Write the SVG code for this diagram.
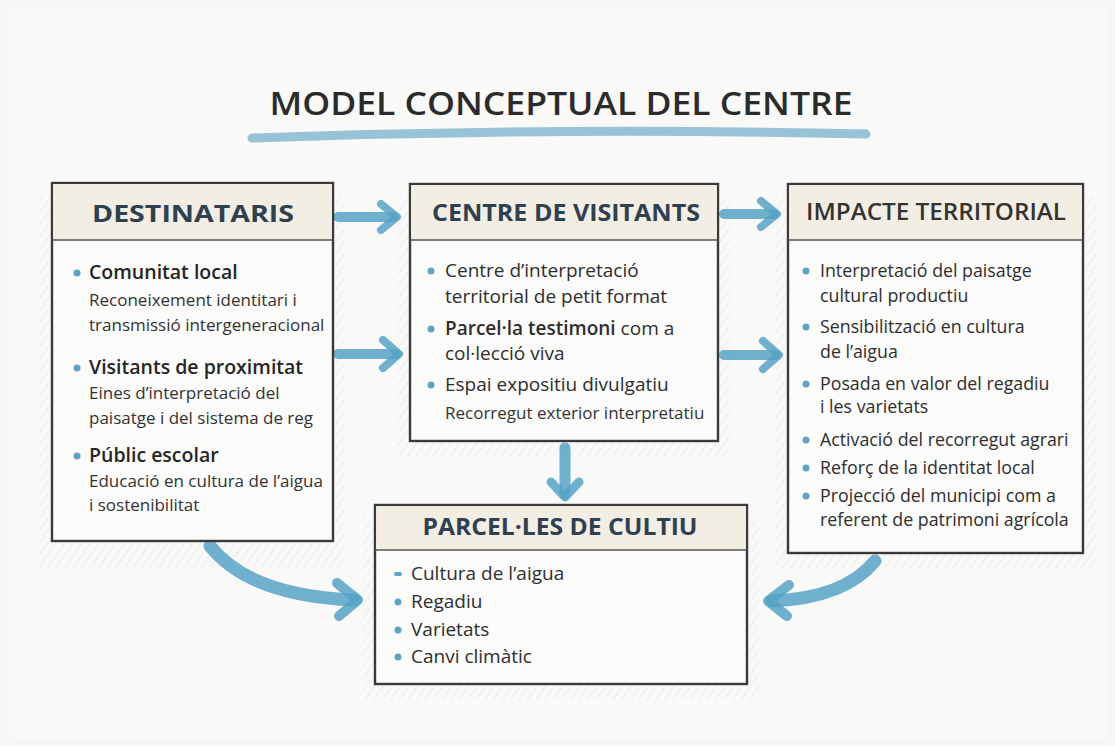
<svg xmlns="http://www.w3.org/2000/svg" width="1115" height="746" viewBox="0 0 1115 746">
  <defs>
    <pattern id="hatch" width="7" height="7" patternUnits="userSpaceOnUse" patternTransform="rotate(35)">
      <line x1="0" y1="0" x2="0" y2="7" stroke="#bdbdbd" stroke-width="0.7"/>
    </pattern>
    <style>
      .box { fill: #fbfbfa; stroke: #3a3a3a; stroke-width: 2.4; }
      .hdr { fill: #f2eee3; }
      .sep { stroke: #555; stroke-width: 1.6; }
      .shadow { fill: url(#hatch); opacity: 0.6; }
      .htxt { font-family: "Open Sans", "Liberation Sans", sans-serif; font-weight: 700; font-size: 22.5px; fill: #2f4050; text-anchor: middle; }
      .b { font-family: "Open Sans", "Liberation Sans", sans-serif; font-weight: 600; font-size: 19.5px; fill: #262626; }
      .r { font-family: "Open Sans", "Liberation Sans", sans-serif; font-weight: 400; font-size: 19px; fill: #2e2e2e; }
      .r3 { font-family: "Open Sans", "Liberation Sans", sans-serif; font-weight: 400; font-size: 17.8px; fill: #2e2e2e; }
      .s { font-family: "Open Sans", "Liberation Sans", sans-serif; font-weight: 400; font-size: 17px; fill: #333; }
      .dot { fill: #5fa3c4; }
      .arr { fill: none; stroke: #56a3c5; stroke-linecap: round; stroke-linejoin: round; opacity: 0.85; }
    </style>
  </defs>

  <rect x="0" y="0" width="1115" height="746" fill="#f6f6f4"/>
  <rect x="8" y="8" width="1099" height="730" rx="6" fill="#f9f9f8"/>

  <!-- Title -->
  <g id="title">
    <text x="561" y="115" text-anchor="middle" font-family="Open Sans, Liberation Sans, sans-serif" font-size="33" font-weight="600" fill="#2b2b2b" textLength="583" lengthAdjust="spacingAndGlyphs">MODEL CONCEPTUAL DEL CENTRE</text>
    <path d="M252,138 Q560,127 866,134" fill="none" stroke="#7fb5cd" stroke-width="9" stroke-linecap="round" opacity="0.8"/>
  </g>

  <!-- shadows -->
  <rect class="shadow" x="40" y="195" width="305" height="372"/>
  <rect class="shadow" x="398" y="196" width="332" height="260"/>
  <rect class="shadow" x="776" y="196" width="320" height="372"/>
  <rect class="shadow" x="363" y="517" width="396" height="183"/>

  <!-- Connectors -->
  <g id="connectors">
    <path class="arr" stroke-width="10" d="M338,217 L394,217"/>
    <path class="arr" stroke-width="8" d="M381,204 L397,217 L381,230"/>
    <path class="arr" stroke-width="10" d="M338,354 L396,354"/>
    <path class="arr" stroke-width="8" d="M383,340 L399,354 L383,368"/>
    <path class="arr" stroke-width="10" d="M724,214 L774,214"/>
    <path class="arr" stroke-width="8" d="M761,201 L777,214 L761,227"/>
    <path class="arr" stroke-width="10" d="M724,355 L776,355"/>
    <path class="arr" stroke-width="8" d="M763,341 L779,355 L763,369"/>
    <path class="arr" stroke-width="11" d="M565,448 L565,494"/>
    <path class="arr" stroke-width="9" d="M551,482 L565,497 L579,482"/>
    <path class="arr" stroke-width="13" d="M210,546 Q250,596 355,600"/>
    <path class="arr" stroke-width="10" d="M337,583 L358,600 L339,616"/>
    <path class="arr" stroke-width="13" d="M875,561 Q845,598 772,601"/>
    <path class="arr" stroke-width="10" d="M789,585 L768,601 L787,616"/>
  </g>

  <!-- Box 1 -->
  <g id="destinataris">
    <rect class="box" x="52" y="183" width="281" height="358"/>
    <rect class="hdr" x="53.2" y="184.2" width="278.6" height="55"/>
    <line class="sep" x1="52" y1="240" x2="333" y2="240"/>
    <text class="htxt" x="193" y="222" textLength="202" lengthAdjust="spacingAndGlyphs">DESTINATARIS</text>
    <circle class="dot" cx="77" cy="273" r="3.5"/>
    <text class="b" x="89" y="279">Comunitat local</text>
    <text class="s" x="89" y="306">Reconeixement identitari i</text>
    <text class="s" x="89" y="331">transmissió intergeneracional</text>
    <circle class="dot" cx="77" cy="368" r="3.5"/>
    <text class="b" x="89" y="374">Visitants de proximitat</text>
    <text class="s" x="89" y="399">Eines d’interpretació del</text>
    <text class="s" x="89" y="424">paisatge i del sistema de reg</text>
    <circle class="dot" cx="77" cy="456" r="3.5"/>
    <text class="b" x="89" y="462">Públic escolar</text>
    <text class="s" x="89" y="487">Educació en cultura de l’aigua</text>
    <text class="s" x="89" y="511">i sostenibilitat</text>
  </g>

  <!-- Box 2 -->
  <g id="centre-visitants">
    <rect class="box" x="410" y="184" width="308" height="257"/>
    <rect class="hdr" x="411.2" y="185.2" width="305.6" height="54"/>
    <line class="sep" x1="410" y1="240" x2="718" y2="240"/>
    <text class="htxt" x="566" y="221" textLength="268" lengthAdjust="spacingAndGlyphs">CENTRE DE VISITANTS</text>
    <circle class="dot" cx="431" cy="271" r="3.5"/>
    <text class="r" x="445" y="277">Centre d’interpretació</text>
    <text class="r" x="445" y="303">territorial de petit format</text>
    <circle class="dot" cx="431" cy="329" r="3.5"/>
    <text class="r" x="445" y="335"><tspan font-weight="600">Parcel·la testimoni</tspan> com a</text>
    <text class="r" x="445" y="360">col·lecció viva</text>
    <circle class="dot" cx="431" cy="385" r="3.5"/>
    <text class="r" x="445" y="391" font-weight="500">Espai expositiu divulgatiu</text>
    <text class="s" x="445" y="419">Recorregut exterior interpretatiu</text>
  </g>

  <!-- Box 3 -->
  <g id="impacte-territorial">
    <rect class="box" x="788" y="184" width="295" height="369"/>
    <rect class="hdr" x="789.2" y="185.2" width="292.6" height="54"/>
    <line class="sep" x1="788" y1="240" x2="1083" y2="240"/>
    <text class="htxt" x="936" y="220" style="fill:#333;font-weight:600" textLength="260" lengthAdjust="spacingAndGlyphs">IMPACTE TERRITORIAL</text>
    <circle class="dot" cx="806" cy="271" r="3.5"/>
    <text class="r3" x="820" y="277">Interpretació del paisatge</text>
    <text class="r3" x="820" y="302">cultural productiu</text>
    <circle class="dot" cx="806" cy="327" r="3.5"/>
    <text class="r3" x="820" y="333">Sensibilització en cultura</text>
    <text class="r3" x="820" y="358">de l’aigua</text>
    <circle class="dot" cx="806" cy="384" r="3.5"/>
    <text class="r3" x="820" y="390">Posada en valor del regadiu</text>
    <text class="r3" x="820" y="413">i les varietats</text>
    <circle class="dot" cx="806" cy="440" r="3.5"/>
    <text class="r3" x="820" y="446">Activació del recorregut agrari</text>
    <circle class="dot" cx="806" cy="468" r="3.5"/>
    <text class="r3" x="820" y="474">Reforç de la identitat local</text>
    <circle class="dot" cx="806" cy="496" r="3.5"/>
    <text class="r3" x="820" y="502">Projecció del municipi com a</text>
    <text class="r3" x="820" y="526">referent de patrimoni agrícola</text>
  </g>

  <!-- Box 4 -->
  <g id="parceles-cultiu">
    <rect class="box" x="375" y="505" width="372" height="179"/>
    <rect class="hdr" x="376.2" y="506.2" width="369.6" height="43"/>
    <line class="sep" x1="375" y1="550" x2="747" y2="550"/>
    <text class="htxt" x="560" y="535" textLength="275" lengthAdjust="spacingAndGlyphs">PARCEL·LES DE CULTIU</text>
    <rect class="dot" x="394" y="572" width="8" height="4" rx="2"/>
    <text class="r" x="411" y="580">Cultura de l’aigua</text>
    <circle class="dot" cx="398" cy="602" r="3.5"/>
    <text class="r" x="411" y="608">Regadiu</text>
    <circle class="dot" cx="398" cy="630" r="3.5"/>
    <text class="r" x="411" y="636">Varietats</text>
    <circle class="dot" cx="398" cy="657" r="3.5"/>
    <text class="r" x="411" y="663">Canvi climàtic</text>
  </g>
</svg>
